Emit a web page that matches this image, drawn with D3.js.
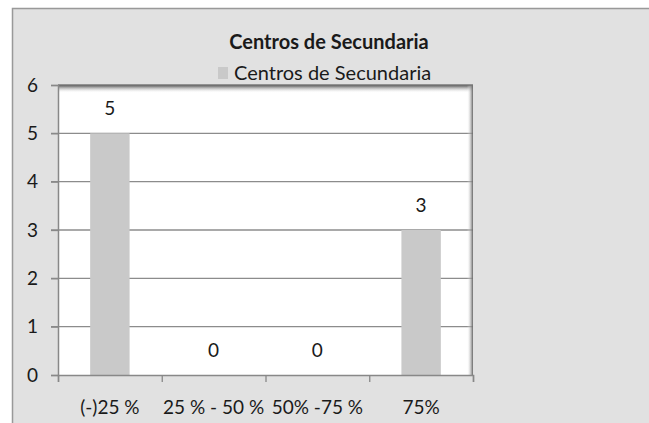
<!DOCTYPE html>
<html>
<head>
<meta charset="utf-8">
<script src="https://cdn.jsdelivr.net/npm/d3@7"></script>
<style>
  body { margin: 0; background: #fff; }
  text { font-family: Lato, "Open Sans", sans-serif; fill: #1a1a1a; }
</style>
</head>
<body>
<div id="chart"></div>
<script>
// data
var categories = ["(-)25 %", "25 % - 50 %", "50% -75 %", "75%"];
var values = [5, 0, 0, 3];
var yTicks = [0, 1, 2, 3, 4, 5, 6];
var title = "Centros de Secundaria";
var seriesName = "Centros de Secundaria";

var W = 649, H = 423;
var margin = {top: 85, right: 176, bottom: 48, left: 58},
    width = W - margin.left - margin.right,
    height = H - margin.top - margin.bottom;

var svg = d3.select("#chart")
  .append("svg")
    .attr("width", W)
    .attr("height", H);

var defs = svg.append("defs");
var gTop = defs.append("linearGradient").attr("id", "shTop")
  .attr("x1", 0).attr("y1", 0).attr("x2", 0).attr("y2", 1);
gTop.append("stop").attr("offset", "0%").attr("stop-color", "#4a4a4a").attr("stop-opacity", 1);
gTop.append("stop").attr("offset", "100%").attr("stop-color", "#fff").attr("stop-opacity", 0);
var gRight = defs.append("linearGradient").attr("id", "shRight")
  .attr("x1", 1).attr("y1", 0).attr("x2", 0).attr("y2", 0);
gRight.append("stop").attr("offset", "0%").attr("stop-color", "#666").attr("stop-opacity", 1);
gRight.append("stop").attr("offset", "100%").attr("stop-color", "#fff").attr("stop-opacity", 0);

// outer chart area
svg.append("rect")
  .attr("x", 12.5).attr("y", 8.5)
  .attr("width", W).attr("height", H)
  .attr("fill", "#e1e1e1")
  .attr("stroke", "#999").attr("stroke-width", 1.5);

var g = svg.append("g")
  .attr("transform", "translate(" + margin.left + "," + margin.top + ")");

var x = d3.scaleBand()
  .domain(categories)
  .range([0, width])
  .paddingInner(0.62)
  .paddingOuter(0.31);

var y = d3.scaleLinear()
  .domain([0, 6])
  .range([height, 0]);

// plot area
g.append("rect")
  .attr("width", width).attr("height", height)
  .attr("fill", "#fff");

// grid lines
g.selectAll(".grid")
  .data(yTicks.filter(function(d) { return d > 0 && d < 6; }))
  .enter()
  .append("line")
    .attr("x1", -7).attr("x2", width)
    .attr("y1", function(d) { return y(d); })
    .attr("y2", function(d) { return y(d); })
    .attr("stroke", "#8c8c8c")
    .attr("stroke-width", 1.3);

// bars
g.selectAll(".bar")
  .data(values)
  .enter()
  .append("rect")
    .attr("x", function(d, i) { return x(categories[i]); })
    .attr("width", x.bandwidth())
    .attr("y", function(d) { return y(d); })
    .attr("height", function(d) { return height - y(d); })
    .attr("fill", "#c9c9c9");

// shadows on top and right
g.append("rect")
  .attr("x", 0).attr("y", 0)
  .attr("width", width).attr("height", 8)
  .attr("fill", "url(#shTop)");
g.append("rect")
  .attr("x", width - 6).attr("y", 0)
  .attr("width", 6).attr("height", height)
  .attr("fill", "url(#shRight)");
g.append("line")
  .attr("x1", 0).attr("x2", width)
  .attr("y1", 0).attr("y2", 0)
  .attr("stroke", "#777").attr("stroke-width", 1.5);

// value labels
g.selectAll(".lbl")
  .data(values)
  .enter()
  .append("text")
    .attr("x", function(d, i) { return x(categories[i]) + x.bandwidth() / 2; })
    .attr("y", function(d) { return y(d) - 18; })
    .attr("text-anchor", "middle")
    .attr("font-size", 19)
    .text(function(d) { return d; });

// y axis
var yAxis = g.append("g")
  .call(d3.axisLeft(y).tickValues(yTicks).tickSize(7).tickPadding(13)
    .tickFormat(d3.format("d")));
yAxis.select(".domain").attr("stroke", "#888").attr("stroke-width", 1.5);
yAxis.selectAll(".tick line").attr("stroke", "#888").attr("stroke-width", 1.3);
yAxis.selectAll("text").attr("font-size", 19).attr("fill", "#1a1a1a");

// x axis with ticks between categories
var xEdges = d3.scaleLinear().domain([0, categories.length]).range([0, width]);
var xAxis = g.append("g")
  .attr("transform", "translate(0," + height + ")")
  .call(d3.axisBottom(xEdges).ticks(categories.length).tickSize(7).tickFormat(""));
xAxis.select(".domain").attr("stroke", "#888").attr("stroke-width", 1.5);
xAxis.selectAll(".tick line").attr("stroke", "#888").attr("stroke-width", 1.3);

g.selectAll(".xlbl")
  .data(categories)
  .enter()
  .append("text")
    .attr("x", function(d) { return x(d) + x.bandwidth() / 2; })
    .attr("y", height + 39)
    .attr("text-anchor", "middle")
    .attr("font-size", 19)
    .text(function(d) { return d; });

// title and legend
svg.append("text")
  .attr("x", 329).attr("y", 49)
  .attr("text-anchor", "middle")
  .attr("font-size", 20)
  .attr("font-weight", "bold")
  .text(title);

svg.append("rect")
  .attr("x", 218).attr("y", 67)
  .attr("width", 10).attr("height", 12)
  .attr("fill", "#c9c9c9");
svg.append("text")
  .attr("x", 234).attr("y", 80)
  .attr("font-size", 20)
  .text(seriesName);
</script>
</body>
</html>
